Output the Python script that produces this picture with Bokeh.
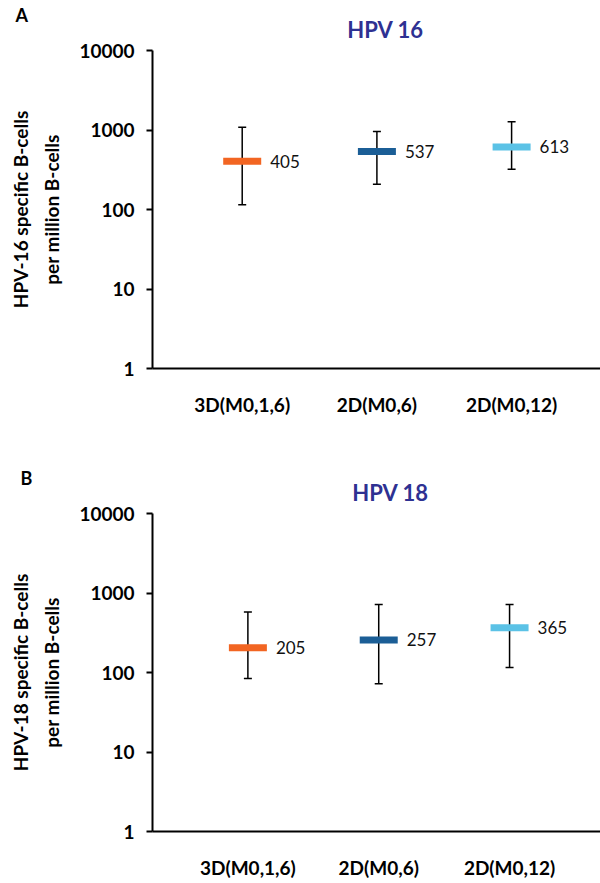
from bokeh.plotting import figure
from bokeh.models import (Whisker, TeeHead, ColumnDataSource, FixedTicker,
                          PrintfTickFormatter, Label, Range1d)
from bokeh.layouts import column
from bokeh.embed import file_html
from bokeh.resources import INLINE
from bokeh.core.properties import value

categories = ["3D(M0,1,6)", "2D(M0,6)", "2D(M0,12)"]
colors = ["#F26522", "#1B5E96", "#5BC2E6"]

hpv16_median = [405, 537, 613]
hpv16_lower = [115, 208, 321]
hpv16_upper = [1085, 957, 1268]

hpv18_median = [205, 257, 365]
hpv18_lower = [84, 72, 116]
hpv18_upper = [575, 717, 717]

y_ticks = [1, 10, 100, 1000, 10000]

FONT = "Lato"


def make_panel(letter, title, ylabel, med, lo, hi, height, border_left,
               border_top, border_bottom, xstart, xend):
    xs = list(range(len(categories)))
    src = ColumnDataSource(dict(x=xs, med=med, lo=lo, hi=hi, color=colors,
                                lab=[str(v) for v in med]))
    p = figure(width=600, height=height, y_axis_type="log",
               x_range=Range1d(xstart, xend), y_range=Range1d(1, 10000),
               output_backend="svg", toolbar_location=None,
               min_border_left=border_left, min_border_right=0,
               min_border_top=border_top, min_border_bottom=border_bottom)
    p.outline_line_color = None
    p.xgrid.grid_line_color = None
    p.ygrid.grid_line_color = None

    w = Whisker(source=src, base="x", upper="hi", lower="lo",
                line_color="black", line_width=1.5, level="underlay",
                upper_head=TeeHead(size=8, line_width=1.5, line_color="black"),
                lower_head=TeeHead(size=8, line_width=1.5, line_color="black"))
    p.add_layout(w)
    p.rect(x="x", y="med", width=38, height=7, width_units="screen",
           height_units="screen", fill_color="color", line_color=None,
           source=src)
    p.text(x="x", y="med", text="lab", x_offset=28, text_align="left",
           text_baseline="middle", text_font=value(FONT),
           text_font_size="17px", text_color="#111111", source=src)

    xa = p.xaxis[0]
    xa.ticker = FixedTicker(ticks=xs)
    xa.major_label_overrides = {i: c for i, c in enumerate(categories)}
    xa.major_tick_out = 0
    xa.major_tick_in = 0
    xa.minor_tick_out = 0
    xa.minor_tick_in = 0
    xa.axis_line_width = 2
    xa.major_label_standoff = 24
    xa.major_label_text_font = FONT
    xa.major_label_text_font_style = "bold"
    xa.major_label_text_font_size = "19px"
    xa.major_label_text_color = "black"

    ya = p.yaxis[0]
    ya.ticker = FixedTicker(ticks=y_ticks)
    ya.formatter = PrintfTickFormatter(format="%d")
    ya.major_tick_out = 6
    ya.major_tick_in = 0
    ya.minor_tick_out = 0
    ya.minor_tick_in = 0
    ya.axis_line_width = 2
    ya.major_tick_line_width = 2
    ya.major_label_standoff = 12
    ya.major_label_text_font = FONT
    ya.major_label_text_font_style = "bold"
    ya.major_label_text_font_size = "19px"
    ya.major_label_text_color = "black"
    ya.axis_label = ylabel
    ya.axis_label_text_font = FONT
    ya.axis_label_text_font_style = "bold"
    ya.axis_label_text_font_size = "19px"
    ya.axis_label_text_color = "black"
    ya.axis_label_standoff = 13
    ya.axis_label_text_line_height = 1.35

    frame_left = border_left
    t_main = Label(text=title, x=385 - frame_left, y=21,
                   x_units="screen", y_units="screen",
                   text_align="center", text_baseline="middle",
                   text_font=FONT, text_font_style="bold",
                   text_font_size="22px", text_color="#2E3192")
    t_letter = Label(text=letter, x=15 - frame_left, y=9,
                     x_units="screen", y_units="screen",
                     text_align="left", text_baseline="middle",
                     text_font=FONT, text_font_style="bold",
                     text_font_size="18px", text_color="black")
    p.add_layout(t_main, "above")
    p.add_layout(t_letter, "above")
    return p


pA = make_panel("A", "HPV 16", "HPV-16 specific B-cells\nper million B-cells",
                hpv16_median, hpv16_lower, hpv16_upper,
                height=463, border_left=152, border_top=50, border_bottom=95,
                xstart=-0.666, xend=2.660)
pB = make_panel("B", "HPV 18", "HPV-18 specific B-cells\nper million B-cells",
                hpv18_median, hpv18_lower, hpv18_upper,
                height=420, border_left=147, border_top=50, border_bottom=52,
                xstart=-0.729, xend=2.695)

layout = column(pA, pB)
open("out.html", "w").write(file_html(layout, INLINE))
